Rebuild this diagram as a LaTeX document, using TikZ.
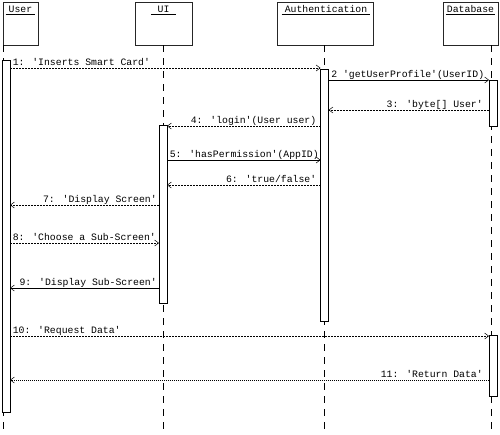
\documentclass[tikz,border=0pt]{standalone}
\usepackage{fontspec}
\newfontfamily\seqfont{Liberation Mono}
\usetikzlibrary{arrows.meta}

\tikzset{
  part/.style={draw=black!85, line width=0.6pt, fill=white, inner sep=0pt, outer sep=0pt},
  plabel/.style={font=\seqfont\fontsize{9.8}{10}\selectfont, anchor=base, text depth=0pt, inner xsep=3pt, inner ysep=2pt},
  act/.style={draw, line width=0.6pt, fill=white, minimum width=8, inner sep=0pt, outer sep=0pt, anchor=north west},
  life/.style={line width=0.6pt, dash pattern=on 7pt off 6pt},
  call/.style={line width=0.5pt, -{Straight Barb[length=4pt,width=6pt]}},
  reply/.style={call, dash pattern=on 2pt off 1pt},
  lab/.style={font=\seqfont\fontsize{9.8}{10}\selectfont, inner sep=0pt, yshift=3pt},
  labr/.style={lab, anchor=base west, xshift=2.5pt},
  labl/.style={lab, anchor=base east, xshift=-4pt}
}

\begin{document}
\begin{tikzpicture}[x=1pt, y=-1pt]
    \fill[white] (0,0) rectangle (500,434);
    \useasboundingbox (0,0) rectangle (500,434);

    % Participants
    \node[part, minimum width=35, minimum height=43] (user) at (20.5,23.5) {};
    \node[part, minimum width=57, minimum height=43] (ui) at (163.5,23.5) {};
    \node[part, minimum width=96, minimum height=43] (auth) at (325,23.5) {};
    \node[part, minimum width=55, minimum height=43] (db) at (470.5,23.5) {};

    \node[plabel] (userlab) at (20.5,12) {User};
    \node[plabel, inner xsep=6.5pt] (uilab) at (163.5,12) {UI};
    \node[plabel] (authlab) at (326,12) {Authentication};
    \node[plabel, inner xsep=1pt] (dblab) at (470.5,12) {Database};
    \foreach \n in {userlab,uilab,authlab,dblab}
        \draw[line width=0.6pt] (\n.south west) -- (\n.south east);

    % Lifelines
    \coordinate (uL) at (3.5,45);
    \coordinate (iL) at (163,45);
    \coordinate (aL) at (324.5,45);
    \coordinate (dL) at (491.5,45);
    \foreach \c in {uL,iL,aL,dL}
        \draw[life] (\c) -- (\c |- 0,434);

    % Activations
    \node[act, minimum height=352] (ua) at (2,60) {};
    \node[act, minimum height=178] (ia) at (159,125) {};
    \node[act, minimum height=252] (aa) at (320.5,69) {};
    \node[act, minimum height=46] (da1) at (489,80) {};
    \node[act, minimum height=61] (da2) at (489,335) {};

    % Messages
    \draw[reply] (ua.east |- 0,68) -- (aa.west |- 0,68)
        node[labr, pos=0] {1: 'Inserts Smart Card'};
    \draw[call] (aa.east |- 0,80) -- (da1.west |- 0,80)
        node[labr, pos=0] {2 'getUserProfile'(UserID)};
    \draw[reply] (da1.west |- 0,110) -- (aa.east |- 0,110)
        node[labl, pos=0, xshift=-2pt] {3: 'byte[] User'};
    \draw[reply] (aa.west |- 0,126) -- (ia.east |- 0,126)
        node[labl, pos=0] {4: 'login'(User user)};
    \draw[call] (ia.east |- 0,160) -- (aa.west |- 0,160)
        node[labr, pos=0] {5: 'hasPermission'(AppID)};
    \draw[reply] (aa.west |- 0,185) -- (ia.east |- 0,185)
        node[labl, pos=0] {6: 'true/false'};
    \draw[reply] (ia.west |- 0,205) -- (ua.east |- 0,205)
        node[labl, pos=0, xshift=2pt] {7: 'Display Screen'};
    \draw[reply] (ua.east |- 0,243) -- (ia.west |- 0,243)
        node[labr, pos=0] {8: 'Choose a Sub-Screen'};
    \draw[call] (ia.west |- 0,288) -- (ua.east |- 0,288)
        node[labl, pos=0, xshift=2pt] {9: 'Display Sub-Screen'};
    \draw[reply] (ua.east |- 0,336) -- (da2.west |- 0,336)
        node[labr, pos=0] {10: 'Request Data'};
    \draw[reply, dash pattern=on 1pt off 1pt] (da2.west |- 0,380) -- (ua.east |- 0,380)
        node[labl, pos=0, xshift=-2pt] {11: 'Return Data'};
\end{tikzpicture}
\end{document}
